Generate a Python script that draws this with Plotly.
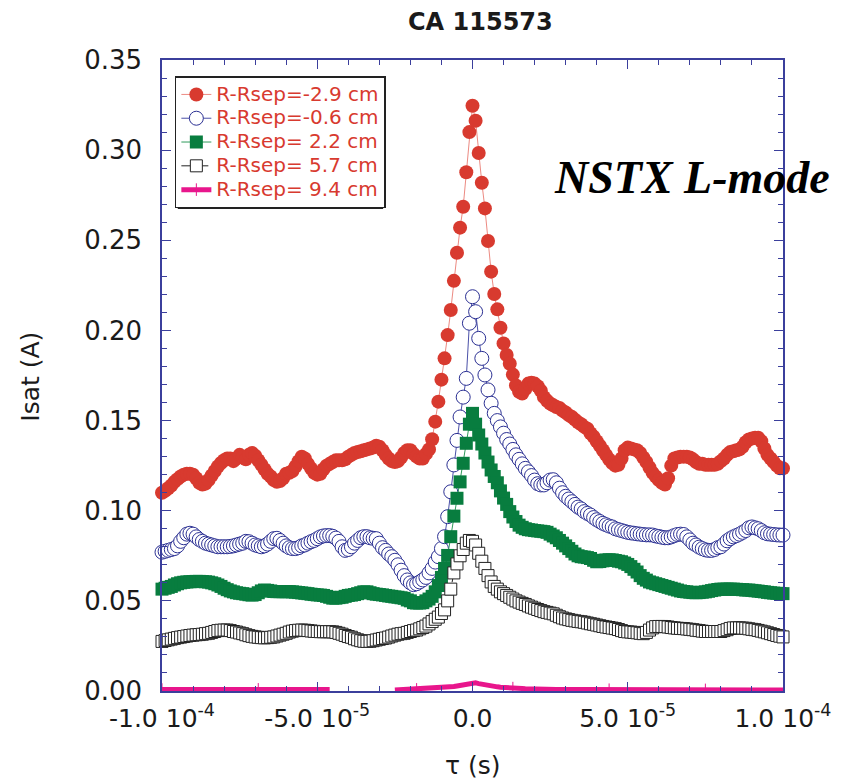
import plotly.graph_objects as go

# sampling grid (microseconds), one sample per microsecond
tau_us = list(range(-100, 101))
tau_s = [t * 1e-6 for t in tau_us]

series_names = ["R-Rsep=-2.9 cm", "R-Rsep=-0.6 cm", "R-Rsep= 2.2 cm",
                "R-Rsep= 5.7 cm", "R-Rsep= 9.4 cm"]

isat_m29 = [
    0.110, 0.111, 0.1125, 0.114, 0.116, 0.1175, 0.119, 0.120, 0.1205, 0.1205,
    0.120, 0.118, 0.1155, 0.1145, 0.115, 0.117, 0.1195, 0.122, 0.1245, 0.1265,
    0.128, 0.129, 0.129, 0.1275, 0.129, 0.131, 0.130, 0.1285, 0.131, 0.132,
    0.1305, 0.128, 0.1255, 0.123, 0.1205, 0.119, 0.117, 0.116, 0.1165, 0.118,
    0.1205, 0.121, 0.122, 0.1245, 0.1275, 0.130, 0.129, 0.126, 0.1235, 0.121,
    0.120, 0.1205, 0.123, 0.125, 0.126, 0.127, 0.128, 0.128, 0.128, 0.1285,
    0.130, 0.131, 0.132, 0.1325, 0.133, 0.1335, 0.134, 0.1345, 0.135, 0.136,
    0.1355, 0.1335, 0.131, 0.129, 0.1275, 0.127, 0.1275, 0.1295, 0.132, 0.1335,
    0.1335, 0.1315, 0.130, 0.129, 0.129, 0.1315, 0.134, 0.1396, 0.1494, 0.1605,
    0.1727, 0.1845, 0.1974, 0.2113, 0.2275, 0.2431, 0.2570, 0.2686, 0.2877, 0.3100,
    0.3246, 0.3163, 0.2984, 0.2819, 0.2677, 0.2496, 0.2326, 0.2202, 0.2117, 0.2015,
    0.1928, 0.1864, 0.1815, 0.1755, 0.1695, 0.166, 0.165, 0.1675, 0.1705, 0.171,
    0.1705, 0.169, 0.1665, 0.163, 0.161, 0.1595, 0.1585, 0.1575, 0.157, 0.1555,
    0.1545, 0.153, 0.152, 0.1505, 0.149, 0.148, 0.1465, 0.1455, 0.143, 0.141,
    0.1385, 0.136, 0.1335, 0.131, 0.1285, 0.1265, 0.125, 0.1255, 0.129, 0.1335,
    0.135, 0.1345, 0.134, 0.1335, 0.132, 0.1295, 0.127, 0.124, 0.121, 0.119,
    0.117, 0.1155, 0.1145, 0.118, 0.125, 0.129, 0.1295, 0.130, 0.130, 0.130,
    0.1295, 0.1285, 0.127, 0.126, 0.126, 0.1255, 0.1255, 0.1255, 0.1255, 0.126,
    0.1275, 0.129, 0.131, 0.1325, 0.133, 0.1335, 0.134, 0.1355, 0.138, 0.1395,
    0.140, 0.1405, 0.1405, 0.1385, 0.1345, 0.131, 0.129, 0.127, 0.125, 0.1235,
    0.1235,
]

isat_m06 = [
    0.077, 0.0775, 0.078, 0.0785, 0.079, 0.0805, 0.083, 0.085, 0.087, 0.0875,
    0.087, 0.0855, 0.084, 0.083, 0.082, 0.0815, 0.081, 0.0805, 0.080, 0.080,
    0.080, 0.080, 0.0802, 0.0805, 0.081, 0.0815, 0.082, 0.083, 0.0828, 0.082,
    0.081, 0.0805, 0.080, 0.0805, 0.0815, 0.083, 0.0845, 0.0847, 0.0835, 0.082,
    0.0805, 0.0795, 0.079, 0.079, 0.0795, 0.0805, 0.081, 0.082, 0.0828, 0.0835,
    0.0845, 0.0855, 0.086, 0.0862, 0.0862, 0.0858, 0.0848, 0.083, 0.080, 0.078,
    0.0785, 0.080, 0.082, 0.0835, 0.085, 0.0856, 0.0856, 0.085, 0.0847, 0.0845,
    0.082, 0.0795, 0.078, 0.076, 0.0745, 0.0725, 0.070, 0.067, 0.064, 0.0616,
    0.060, 0.059, 0.0595, 0.0605, 0.0616, 0.063, 0.0655, 0.068, 0.0715, 0.0745,
    0.079, 0.0856, 0.0967, 0.1105, 0.1254, 0.139, 0.152, 0.163, 0.1734, 0.204,
    0.2187, 0.2104, 0.1956, 0.1845, 0.1753, 0.167, 0.1596, 0.154, 0.150, 0.1465,
    0.143, 0.1395, 0.137, 0.134, 0.131, 0.1285, 0.126, 0.1235, 0.1216, 0.1195,
    0.117, 0.115, 0.1143, 0.1143, 0.1155, 0.117, 0.1172, 0.1155, 0.1125, 0.110,
    0.108, 0.1065, 0.105, 0.1035, 0.102, 0.101, 0.0995, 0.0985, 0.0976, 0.0962,
    0.095, 0.094, 0.093, 0.0922, 0.0915, 0.091, 0.090, 0.0895, 0.089, 0.0885,
    0.088, 0.0877, 0.0875, 0.0872, 0.087, 0.0868, 0.0866, 0.0866, 0.0865, 0.086,
    0.0857, 0.0853, 0.085, 0.085, 0.0855, 0.0862, 0.0868, 0.087, 0.0868, 0.0855,
    0.0838, 0.082, 0.081, 0.0798, 0.079, 0.0783, 0.078, 0.078, 0.0785, 0.0795,
    0.080, 0.0815, 0.0833, 0.0845, 0.0855, 0.0862, 0.087, 0.088, 0.089, 0.0905,
    0.091, 0.0905, 0.090, 0.089, 0.0878, 0.0872, 0.087, 0.0868, 0.0866, 0.0865,
    0.0865,
]

isat_p22 = [
    0.0565, 0.057, 0.0575, 0.058, 0.0588, 0.0595, 0.060, 0.0603, 0.0605, 0.0606,
    0.0607, 0.0608, 0.0608, 0.0607, 0.0606, 0.0604, 0.060, 0.0595, 0.0588, 0.058,
    0.057, 0.0562, 0.0555, 0.055, 0.0545, 0.0542, 0.054, 0.0537, 0.0534, 0.0532,
    0.0535, 0.0545, 0.0555, 0.056, 0.0558, 0.0555, 0.0552, 0.0551, 0.0551, 0.0551,
    0.0551, 0.0551, 0.055, 0.0548, 0.0546, 0.0544, 0.0542, 0.054, 0.0537, 0.0535,
    0.0533, 0.0532, 0.053, 0.0525, 0.052, 0.0515, 0.0515, 0.0518, 0.052, 0.0525,
    0.053, 0.0532, 0.0535, 0.054, 0.0545, 0.055, 0.055, 0.0545, 0.054, 0.0537,
    0.0535, 0.0533, 0.053, 0.0527, 0.0525, 0.0522, 0.052, 0.0517, 0.0514, 0.0505,
    0.050, 0.049, 0.0488, 0.0488, 0.049, 0.050, 0.051, 0.0525, 0.055, 0.0585,
    0.063, 0.068, 0.0752, 0.0856, 0.097, 0.1069, 0.116, 0.1263, 0.1374, 0.148,
    0.154, 0.148, 0.142, 0.137, 0.132, 0.127, 0.1226, 0.119, 0.1155, 0.111,
    0.107, 0.1035, 0.0995, 0.0965, 0.094, 0.092, 0.0908, 0.090, 0.0895, 0.0893,
    0.089, 0.0888, 0.0886, 0.0884, 0.088, 0.087, 0.086, 0.085, 0.0835, 0.082,
    0.0805, 0.079, 0.0775, 0.076, 0.075, 0.0745, 0.0743, 0.074, 0.0735, 0.0725,
    0.0717, 0.0718, 0.0722, 0.0727, 0.0728, 0.0727, 0.0724, 0.072, 0.0717, 0.071,
    0.0702, 0.069, 0.0675, 0.066, 0.064, 0.0625, 0.0615, 0.0605, 0.060, 0.0595,
    0.059, 0.0585, 0.058, 0.0575, 0.057, 0.0565, 0.056, 0.0555, 0.0552, 0.055,
    0.0548, 0.0546, 0.0545, 0.0546, 0.0548, 0.055, 0.0553, 0.0557, 0.056, 0.0563,
    0.0565, 0.0565, 0.0565, 0.0565, 0.0565, 0.0564, 0.0563, 0.0562, 0.056, 0.056,
    0.0558, 0.0556, 0.0554, 0.0552, 0.055, 0.0547, 0.0545, 0.0543, 0.0542, 0.0541,
    0.054,
]

isat_p57 = [
    0.0275, 0.028, 0.0284, 0.0288, 0.0292, 0.0296, 0.0299, 0.0302, 0.0305, 0.0308,
    0.031, 0.0312, 0.0313, 0.0315, 0.0318, 0.032, 0.0325, 0.033, 0.0335, 0.0337,
    0.0338, 0.0338, 0.0335, 0.033, 0.0327, 0.0322, 0.0318, 0.0312, 0.0307, 0.0303,
    0.030, 0.0298, 0.0296, 0.0295, 0.0296, 0.0298, 0.030, 0.0305, 0.031, 0.0315,
    0.032, 0.0327, 0.0332, 0.0335, 0.0337, 0.0338, 0.0337, 0.0335, 0.0333, 0.0331,
    0.033, 0.0329, 0.0329, 0.0329, 0.0329, 0.0328, 0.0325, 0.032, 0.0315, 0.0308,
    0.0302, 0.0298, 0.029, 0.0284, 0.0279, 0.0276, 0.0275, 0.0276, 0.0279, 0.0283,
    0.0287, 0.0291, 0.0294, 0.0299, 0.0305, 0.031, 0.0315, 0.0318, 0.032, 0.0325,
    0.033, 0.0335, 0.0338, 0.0345, 0.0352, 0.036, 0.0372, 0.0385, 0.0398, 0.041,
    0.043, 0.045, 0.050, 0.0565, 0.0655, 0.0705, 0.075, 0.0785, 0.082, 0.0835,
    0.083, 0.081, 0.0764, 0.072, 0.068, 0.064, 0.0605, 0.058, 0.0565, 0.055,
    0.054, 0.053, 0.052, 0.051, 0.050, 0.0493, 0.0486, 0.048, 0.0472, 0.0465,
    0.0459, 0.0452, 0.0446, 0.044, 0.0436, 0.0432, 0.0428, 0.042, 0.0412, 0.0405,
    0.040, 0.0396, 0.0392, 0.0389, 0.0386, 0.0384, 0.0381, 0.0377, 0.0373, 0.037,
    0.0366, 0.0362, 0.0358, 0.0355, 0.0352, 0.0349, 0.0346, 0.0341, 0.0335, 0.033,
    0.0328, 0.0327, 0.0325, 0.0323, 0.032, 0.0318, 0.0325, 0.0338, 0.035, 0.0357,
    0.0358, 0.0358, 0.0357, 0.0355, 0.0352, 0.035, 0.0348, 0.0347, 0.0346, 0.0344,
    0.0342, 0.034, 0.0337, 0.0335, 0.0332, 0.033, 0.033, 0.033, 0.033, 0.033,
    0.033, 0.0335, 0.034, 0.0347, 0.035, 0.035, 0.035, 0.0349, 0.0348, 0.0345,
    0.0342, 0.034, 0.0336, 0.0332, 0.0328, 0.0323, 0.0318, 0.0313, 0.0308, 0.0304,
    0.030,
]

N = None
isat_p94 = [
    0.0008, 0.0008, 0.0009, 0.0009, 0.0008, 0.0008, 0.0008, 0.0009, 0.0009, 0.0008,
    0.0008, 0.0008, 0.0009, 0.0009, 0.0009, 0.0008, 0.0008, 0.0008, 0.0009, 0.0009,
    0.0009, 0.0008, 0.0008, 0.0008, 0.0008, 0.0009, 0.0009, 0.0008, 0.0008, 0.0008,
    0.0008, 0.0009, 0.0009, 0.0009, 0.0008, 0.0008, 0.0008, 0.0008, 0.0009, 0.0009,
    0.0009, 0.0009, 0.0008, 0.0008, 0.0008, 0.0008, 0.0009, 0.0009, 0.0009, 0.0008,
    0.0008, 0.0008, 0.0008, 0.0009, 0.0009, N, N, N, N, N,
    N, N, N, N, N, N, N, N, N, N,
    N, N, N, N, N, 0.0005, 0.0006, 0.0006, 0.0007, 0.0007,
    0.0008, 0.0008, 0.0009, 0.0009, 0.0010, 0.0011, 0.0012, 0.0013, 0.0014, 0.0015,
    0.0016, 0.0018, 0.0020, 0.0022, 0.0025, 0.0028, 0.0031, 0.0035, 0.0040, 0.0044,
    0.0048, 0.0045, 0.0041, 0.0037, 0.0034, 0.0031, 0.0028, 0.0025, 0.0023, 0.0021,
    0.0019, 0.0018, 0.0017, 0.0016, 0.0015, 0.0014, 0.0014, 0.0013, 0.0012, 0.0012,
    0.0011, 0.0011, 0.0010, 0.0010, 0.0010, 0.0009, 0.0009, 0.0009, 0.0009, 0.0008,
    0.0008, 0.0008, 0.0008, 0.0008, 0.0008, 0.0008, 0.0008, 0.0008, 0.0008, 0.0008,
    0.0008, 0.0008, 0.0007, 0.0007, 0.0007, 0.0007, 0.0008, 0.0008, 0.0007, 0.0007,
    0.0007, 0.0007, 0.0007, 0.0007, 0.0007, 0.0006, 0.0006, 0.0007, 0.0007, 0.0007,
    0.0007, 0.0007, 0.0006, 0.0006, 0.0006, 0.0007, 0.0007, 0.0007, 0.0006, 0.0006,
    0.0006, 0.0006, 0.0007, 0.0007, 0.0007, 0.0006, 0.0006, 0.0006, 0.0006, 0.0007,
    0.0007, 0.0007, 0.0006, 0.0006, 0.0006, 0.0006, 0.0006, 0.0007, 0.0007, 0.0007,
    0.0006, 0.0006, 0.0006, 0.0006, 0.0006, 0.0006, 0.0007, 0.0007, 0.0006, 0.0006,
    0.0006,
]

x_tickvals = [-1e-4, -5e-5, 0.0, 5e-5, 1e-4]
x_ticktext = ["-1.0 10<sup>-4</sup>", "-5.0 10<sup>-5</sup>", "0.0",
              "5.0 10<sup>-5</sup>", "1.0 10<sup>-4</sup>"]
y_tickvals = [0.0, 0.05, 0.10, 0.15, 0.20, 0.25, 0.30, 0.35]

RED = "#d83a2f"
BLUE = "#2b3093"
GREEN = "#087d3f"
BLACK = "#222222"
PINK = "#e8168c"
AXIS = "#3b3f9c"
FONT = "DejaVu Sans"

def lname(s):
    return '<span style="font-size:20px">' + s + '</span>'

fig = go.Figure()
fig.add_trace(go.Scatter(
    x=tau_s, y=isat_m29, mode="lines+markers", name=lname(series_names[0]),
    line=dict(color="#ec8a82", width=1),
    marker=dict(symbol="circle", size=14, color=RED, line=dict(width=0)),
    cliponaxis=False))
fig.add_trace(go.Scatter(
    x=tau_s, y=isat_m06, mode="lines+markers", name=lname(series_names[1]),
    line=dict(color="#4a50a8", width=1),
    marker=dict(symbol="circle", size=14, color="white", line=dict(color=BLUE, width=1)),
    cliponaxis=False))
fig.add_trace(go.Scatter(
    x=tau_s, y=isat_p22, mode="lines+markers", name=lname(series_names[2]),
    line=dict(color="#2f9a5c", width=1),
    marker=dict(symbol="square", size=13, color=GREEN, line=dict(width=0)),
    cliponaxis=False))
fig.add_trace(go.Scatter(
    x=tau_s, y=isat_p57, mode="lines+markers", name=lname(series_names[3]),
    line=dict(color=BLACK, width=1, dash="dash"),
    marker=dict(symbol="square", size=12, color="white", line=dict(color=BLACK, width=1)),
    cliponaxis=False))
fig.add_trace(go.Scatter(
    x=tau_s, y=isat_p94, mode="lines+markers", name=lname(series_names[4]),
    line=dict(color=PINK, width=5),
    marker=dict(symbol="line-ns", size=9, color=PINK, line=dict(color=PINK, width=1),
                maxdisplayed=6),
    connectgaps=False, cliponaxis=True))

axis_common = dict(
    showline=True, linecolor=AXIS, linewidth=1.5, mirror="ticks",
    ticks="inside", tickcolor=AXIS, tickwidth=1, ticklen=9,
    showgrid=False, zeroline=False,
)

fig.update_xaxes(
    range=[-1e-4, 1e-4], tickvals=x_tickvals, ticktext=x_ticktext,
    minor=dict(dtick=1e-5, tick0=0, ticks="inside", ticklen=5, tickcolor=AXIS, tickwidth=1),
    ticklabelstandoff=4,
    tickfont=dict(family=FONT, size=25, color="#1a1a1a"),
    **axis_common)
fig.update_yaxes(
    range=[0, 0.35], tickvals=y_tickvals, tickformat=".2f",
    minor=dict(dtick=0.01, tick0=0, ticks="inside", ticklen=5, tickcolor=AXIS, tickwidth=1),
    ticklabelstandoff=13,
    tickfont=dict(family=FONT, size=26, color="#1a1a1a"),
    **axis_common)

fig.update_layout(
    width=843, height=781,
    margin=dict(l=162, r=52, t=60, b=90),
    paper_bgcolor="white", plot_bgcolor="white",
    showlegend=True,
    legend=dict(
        x=0.0207, y=0.9746, xanchor="left", yanchor="top",
        bgcolor="white", bordercolor="#222222", borderwidth=1.5,
        font=dict(family=FONT, size=16, color=RED),
        itemsizing="trace", tracegroupgap=0,
    ),
    annotations=[
        dict(text="<b>CA 115573</b>", xref="paper", yref="paper",
             x=0.513, y=1.060, xanchor="center", yanchor="middle", showarrow=False,
             font=dict(family=FONT, size=24, color="#1a1a1a")),
        dict(text="<b><i>NSTX L-mode</i></b>", xref="paper", yref="paper",
             x=0.628, y=0.813, xanchor="left", yanchor="middle", showarrow=False,
             font=dict(family="Liberation Serif", size=46, color="black")),
        dict(text="Isat (A)", xref="paper", yref="paper", textangle=-90,
             x=-0.213, y=0.4976, xanchor="center", yanchor="middle", showarrow=False,
             font=dict(family=FONT, size=25, color="#1a1a1a")),
        dict(text="τ (s)", xref="paper", yref="paper",
             x=0.5, y=-0.1173, xanchor="center", yanchor="middle", showarrow=False,
             font=dict(family=FONT, size=25, color="#1a1a1a")),
    ],
    shapes=[
        dict(type="rect", xref="paper", yref="paper", layer="above",
             x0=(178 - 162) / 629, x1=(386 - 162) / 629,
             y0=(691 - 209) / 631, y1=(691 - 79) / 631,
             fillcolor="#222222", line=dict(width=0)),
    ],
)

fig.write_html("out.html")
